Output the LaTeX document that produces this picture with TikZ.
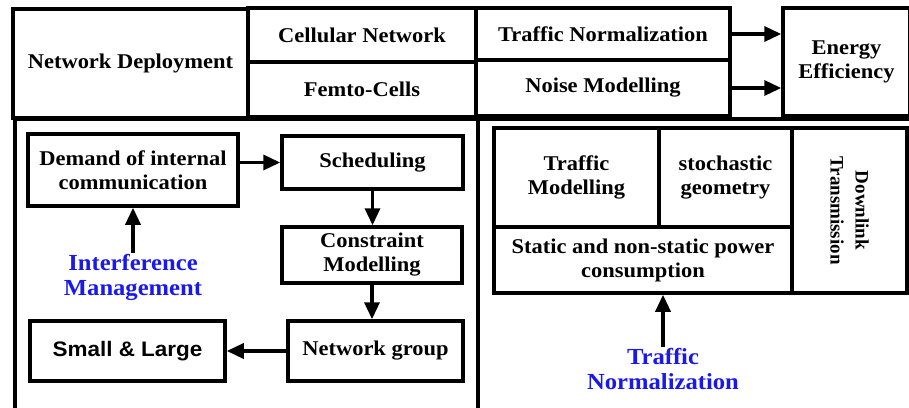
\documentclass[tikz,border=0pt]{standalone}
\usepackage{fontspec}
\setmainfont[FakeStretch=1.07]{Liberation Serif}
\setsansfont[FakeStretch=1.07]{Liberation Sans}
\newfontfamily\rotfont{Liberation Serif}
\usetikzlibrary{arrows.meta}
\definecolor{lblblue}{RGB}{25,25,235}
\tikzset{
  box/.style={draw, line width=3.5pt, inner sep=2pt, align=center,
    font=\fontsize{21}{24}\selectfont\bfseries},
  panel/.style={draw, line width=3.5pt, anchor=north west},
  arr/.style={line width=3.5pt, -{Triangle[length=17pt,width=15pt]}},
  lbl/.style={text=lblblue, align=center, inner sep=1pt,
    font=\fontsize{23}{25}\selectfont\bfseries},
}
\begin{document}
\begin{tikzpicture}[x=1pt,y=-1pt]
\clip (0,0) rectangle (909,407);
\fill[white] (0,0) rectangle (909,407);
% bottom panels
\node[panel, minimum width=463, minimum height=293] (lpanel) at (13,117) {};
\node[panel, minimum width=440, minimum height=293] (rpanel) at (476,117) {};
% top row
\node[box, minimum width=235, minimum height=109] (deploy) at (130.5,63.5) {Network Deployment};
\node[box, minimum width=228, minimum height=54] (cell) at (362,35) {Cellular Network};
\node[box, minimum width=228, minimum height=55] (femto) at (362,89.5) {Femto-Cells};
\node[box, minimum width=254, minimum height=52] (tnorm) at (603,34) {Traffic Normalization};
\node[box, minimum width=254, minimum height=56] (noise) at (603,88) {Noise Modelling};
\node[box, minimum width=127, minimum height=108] (energy) at (846.5,62) {Energy\\Efficiency};
\draw[arr] (tnorm.east) -- (tnorm.east -| energy.west);
\draw[arr] (noise.east) -- (noise.east -| energy.west);
% left panel
\node[box, minimum width=210, minimum height=72] (demand) at (133,170) {Demand of internal\\communication};
\node[box, minimum width=181, minimum height=53] (sched) at (372.5,162.5) {Scheduling};
\node[box, minimum width=180, minimum height=56] (constr) at (372,255) {Constraint\\Modelling};
\node[box, minimum width=175, minimum height=60] (netgrp) at (375.5,351) {Network group};
\node[box, minimum width=195, minimum height=60, font=\fontsize{21}{24}\selectfont\sffamily\bfseries] (small) at (127.5,351) {Small \& Large};
\node[lbl] (imlabel) at (133,277) {Interference\\Management};
\draw[arr] (sched.west -| demand.east) -- (sched.west);
\draw[arr] (sched.south) -- (sched.south |- constr.north);
\draw[arr] (constr.south) -- (constr.south |- netgrp.north);
\draw[arr] (netgrp.west) -- (netgrp.west -| small.east);
\draw[arr] (imlabel.north) -- (imlabel.north |- demand.south);
% right panel
\node[box, minimum width=165, minimum height=99] (tmod) at (576.5,177.5) {Traffic\\Modelling};
\node[box, minimum width=133, minimum height=99] (stoch) at (725.5,177.5) {stochastic\\geometry};
\node[box, minimum width=298, minimum height=66] (static) at (643,260) {Static and non-static power\\consumption};
\node[box, minimum width=115, minimum height=165] (down) at (849.5,210.5) {};
\node[rotate=-90, align=center, inner sep=0pt, font=\fontsize{19}{25}\selectfont\rotfont\bfseries] (downtxt) at (down.center) {Downlink\\Transmission};
\node[lbl] (tnlabel) at (663,369) {Traffic\\Normalization};
\draw[arr] (tnlabel.north) -- (tnlabel.north |- static.south);
\end{tikzpicture}
\end{document}
